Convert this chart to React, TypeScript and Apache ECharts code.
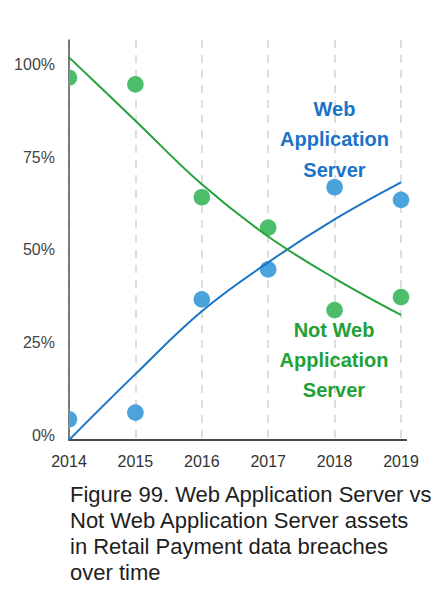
import React, { useEffect, useRef } from "react";
import * as echarts from "echarts";

const years = [2014, 2015, 2016, 2017, 2018, 2019];
const webDots = [5.6, 7.4, 38.0, 46.1, 68.3, 64.9];
const notWebDots = [97.9, 96.1, 65.6, 57.4, 35.1, 38.6];
const webTrend = [0, 17.8, 34.8, 48.0, 59.6, 69.6];
const notWebTrend = [103.4, 86.3, 69.1, 55.0, 43.7, 33.8];
const yTicks = [0, 25, 50, 75, 100];
const titleLines = [
  "Figure 99. Web Application Server vs",
  "Not Web Application Server assets",
  "in Retail Payment data breaches",
  "over time",
];

const FONT = "Liberation Sans, Arial, Helvetica, sans-serif";
const BLUE_DOT = "#4aa3db";
const GREEN_DOT = "#4cbe6b";
const BLUE_LINE = "#1a74c6";
const GREEN_LINE = "#24a139";

export default function App() {
  const ref = useRef<HTMLDivElement>(null);
  useEffect(() => {
    document.body.style.margin = "0";
    if (!ref.current) return;
    const chart = echarts.init(ref.current, null, { renderer: "svg" });
    const dotSeries = (name: string, vals: number[], color: string) => ({
      type: "custom",
      name,
      clip: false,
      z: 2,
      data: years.map((y, i) => [y, vals[i]]),
      renderItem: (params: any, api: any) => {
        const x = api.value(0);
        const p = api.coord([x, api.value(1)]);
        if (x === years[0]) {
          return {
            type: "sector",
            shape: { cx: p[0], cy: p[1], r0: 0, r: 8.3, startAngle: -Math.PI / 2, endAngle: Math.PI / 2 },
            style: { fill: color },
          };
        }
        return {
          type: "circle",
          shape: { cx: p[0], cy: p[1], r: 8.3 },
          style: { fill: color },
        };
      },
    });
    chart.setOption({
      animation: false,
      backgroundColor: "#ffffff",
      title: {
        text: titleLines.join("\n"),
        left: 70,
        top: 481,
        padding: 0,
        textStyle: {
          fontFamily: FONT,
          fontSize: 22,
          fontWeight: "normal",
          color: "#1e1e1e",
          lineHeight: 26,
        },
      },
      grid: { left: 69, top: 40, width: 332, height: 400, containLabel: false },
      xAxis: {
        type: "value",
        min: 2014,
        max: 2019,
        interval: 1,
        axisLine: { show: true, lineStyle: { color: "#111111", width: 1.5 } },
        axisTick: { show: false },
        axisLabel: {
          margin: 13,
          fontFamily: FONT,
          fontSize: 16,
          color: "#333333",
          formatter: (v: number) => (years.includes(v) ? String(v) : ""),
        },
        splitLine: {
          show: true,
          lineStyle: { color: "#d4d4d4", width: 1.5, type: [8, 7] },
        },
      },
      yAxis: {
        type: "value",
        min: 0,
        max: 108.1,
        interval: 25,
        axisLine: { show: true, lineStyle: { color: "#555555", width: 1.5 } },
        axisTick: { show: false },
        splitLine: { show: false },
        axisLabel: {
          margin: 14,
          fontFamily: FONT,
          fontSize: 16,
          color: "#444444",
          verticalAlign: "bottom",
          lineHeight: 10,
          formatter: (v: number) => (yTicks.includes(v) ? v + "%" : ""),
        },
      },
      series: [
        dotSeries("Web Application Server points", webDots, BLUE_DOT),
        dotSeries("Not Web Application Server points", notWebDots, GREEN_DOT),
        {
          type: "line",
          name: "Web Application Server trend",
          data: years.map((y, i) => [y, webTrend[i]]),
          smooth: 0.4,
          showSymbol: false,
          symbol: "none",
          clip: false,
          z: 3,
          lineStyle: { color: BLUE_LINE, width: 2 },
        },
        {
          type: "line",
          name: "Not Web Application Server trend",
          data: years.map((y, i) => [y, notWebTrend[i]]),
          smooth: 0.4,
          showSymbol: false,
          symbol: "none",
          clip: false,
          z: 3,
          lineStyle: { color: GREEN_LINE, width: 2 },
        },
      ],
      graphic: [
        {
          type: "line",
          z: 1,
          shape: { x1: 401, y1: 440, x2: 407, y2: 440 },
          style: { stroke: "#111111", lineWidth: 1.5 },
        },
        {
          type: "text",
          x: 334.5,
          y: 139,
          z: 10,
          style: {
            text: "Web\nApplication\nServer",
            align: "center",
            verticalAlign: "middle",
            font: "bold 20px " + FONT,
            lineHeight: 30.5,
            fill: "#1a73c7",
          },
        },
        {
          type: "text",
          x: 334,
          y: 360,
          z: 10,
          style: {
            text: "Not Web\nApplication\nServer",
            align: "center",
            verticalAlign: "middle",
            font: "bold 20px " + FONT,
            lineHeight: 30,
            fill: "#21a136",
          },
        },
      ],
    });
    return () => chart.dispose();
  }, []);
  return <div ref={ref} style={{ width: 447, height: 596 }} />;
}
